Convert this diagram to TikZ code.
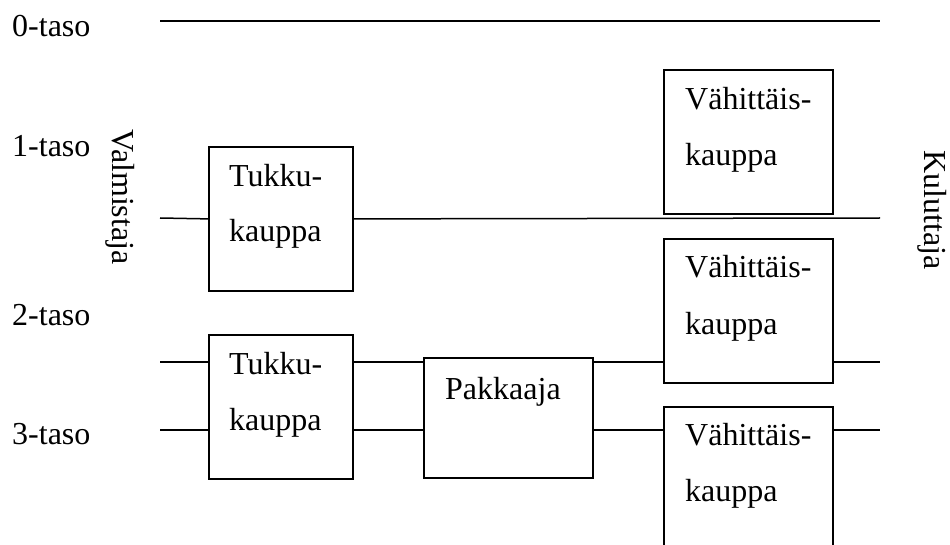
\documentclass[tikz,border=0pt]{standalone}
\usepackage{fontspec}
\setmainfont{Liberation Serif}
\begin{document}
\begin{tikzpicture}[x=1pt,y=-1pt,
  txt/.style={inner sep=0pt,anchor=base west,font=\fontsize{32}{38}\selectfont},
  side/.style={inner sep=0pt,rotate=-90,font=\fontsize{32}{38}\selectfont},
  boxnode/.style={draw,line width=1.8pt,inner sep=0pt,anchor=north west},
  conn/.style={line width=1.5pt}]
\path[use as bounding box,clip] (0,0) rectangle (950,545);
\fill[white] (0,0) rectangle (950,545);
% boxes
\node[boxnode,minimum width=144pt,minimum height=144pt] (T1) at (208,146) {};
\node[boxnode,minimum width=144pt,minimum height=144pt] (T2) at (208,334) {};
\node[boxnode,minimum width=169pt,minimum height=120pt] (P) at (423,357) {};
\node[boxnode,minimum width=169pt,minimum height=144pt] (V1) at (663,69) {};
\node[boxnode,minimum width=169pt,minimum height=144pt] (V2) at (663,238) {};
\node[boxnode,minimum width=169pt,minimum height=160pt] (V3) at (663,406) {};
% box texts
\node[txt] (t1a) at (229,187) {Tukku-};
\node[txt] (t1b) at (229,242) {kauppa};
\node[txt] (t2a) at (229,374) {Tukku-};
\node[txt] (t2b) at (229,430) {kauppa};
\node[txt] (pt) at (445,399) {Pakkaaja};
\node[txt] (v1a) at (685,110) {Vähittäis-};
\node[txt] (v1b) at (685,166) {kauppa};
\node[txt] (v2a) at (685,278) {Vähittäis-};
\node[txt] (v2b) at (685,334) {kauppa};
\node[txt] (v3a) at (685,445) {Vähittäis-};
\node[txt] (v3b) at (685,501) {kauppa};
% level labels
\node[txt] (l0) at (12,37) {0-taso};
\node[txt] (l1) at (12,157) {1-taso};
\node[txt] (l2) at (12,325) {2-taso};
\node[txt] (l3) at (12,444) {3-taso};
\node[side] (valm) at (120,197) {Valmistaja};
\node[side] (kul) at (932,210) {Kuluttaja};
% lines
\coordinate (L0a) at (160,21);
\coordinate (L0b) at (880,21);
\coordinate (L1a) at (160,218);
\coordinate (L1b) at (880,218);
\coordinate (L2a) at (160,362);
\coordinate (L2b) at (880,362);
\coordinate (L3a) at (160,430);
\coordinate (L3b) at (880,430);
\draw[conn] (L0a) -- (L0b);
\draw[conn] (L1a) -- (T1.west);
\draw[conn] (T1.east) -- (L1b);
\draw[conn] (L2a) -- (L2a -| T2.west);
\draw[conn] (L2a -| T2.east) -- (L2a -| P.west);
\draw[conn] (L2a -| P.east) -- (L2a -| V2.west);
\draw[conn] (L2a -| V2.east) -- (L2b);
\draw[conn] (L3a) -- (L3a -| T2.west);
\draw[conn] (L3a -| T2.east) -- (L3a -| P.west);
\draw[conn] (L3a -| P.east) -- (L3a -| V3.west);
\draw[conn] (L3a -| V3.east) -- (L3b);
\end{tikzpicture}
\end{document}
